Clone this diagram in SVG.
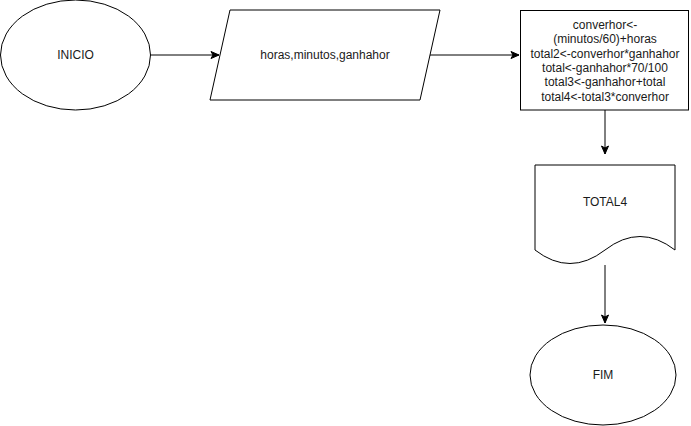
<svg xmlns="http://www.w3.org/2000/svg" width="691" height="426" viewBox="0 0 691 426">
<style>
.s{fill:#fff;stroke:#000;stroke-width:1}
.t{font-family:"Liberation Sans",Arial,sans-serif;font-size:12px;fill:#1a1a1a;text-anchor:middle}
.c{fill:none;stroke:#000;stroke-width:1}
</style>
<defs>
<marker id="a" viewBox="0 0 10 10" refX="9" refY="5" markerWidth="10" markerHeight="10" markerUnits="userSpaceOnUse" orient="auto">
<path d="M1,1.5 L9,5 L1,8.5 L3,5 Z" fill="#000" stroke="#000" stroke-width="1"/>
</marker>
</defs>
<rect width="691" height="426" fill="#fff"/>
<g id="connectors">
<path class="c" d="M150.5,55 H219" marker-end="url(#a)"/>
<path class="c" d="M430,55 H519" marker-end="url(#a)"/>
<path class="c" d="M605,110 V154" marker-end="url(#a)"/>
<path class="c" d="M605,265 V323" marker-end="url(#a)"/>
</g>
<g id="inicio">
<ellipse class="s" cx="75.5" cy="55" rx="75" ry="55"/>
<text class="t" x="75.5" y="59">INICIO</text>
</g>
<g id="entrada">
<path class="s" d="M230,10 H440 L420,100 H210 Z"/>
<text class="t" x="325" y="59">horas,minutos,ganhahor</text>
</g>
<g id="processo">
<rect class="s" x="520.5" y="10.5" width="168" height="99.5"/>
<text class="t" x="605" y="29">converhor&lt;-</text>
<text class="t" x="605" y="43.3">(minutos/60)+horas</text>
<text class="t" x="605" y="57.6">total2&lt;-converhor*ganhahor</text>
<text class="t" x="605" y="71.9">total&lt;-ganhahor*70/100</text>
<text class="t" x="605" y="86.2">total3&lt;-ganhahor+total</text>
<text class="t" x="605" y="100.5">total4&lt;-total3*converhor</text>
</g>
<g id="saida">
<path class="s" d="M535,165 H675 V250 Q640,223 605,250 Q570,277 535,250 Z"/>
<text class="t" x="605" y="206">TOTAL4</text>
</g>
<g id="fim">
<ellipse class="s" cx="603" cy="375" rx="73" ry="50"/>
<text class="t" x="603" y="379">FIM</text>
</g>
</svg>
